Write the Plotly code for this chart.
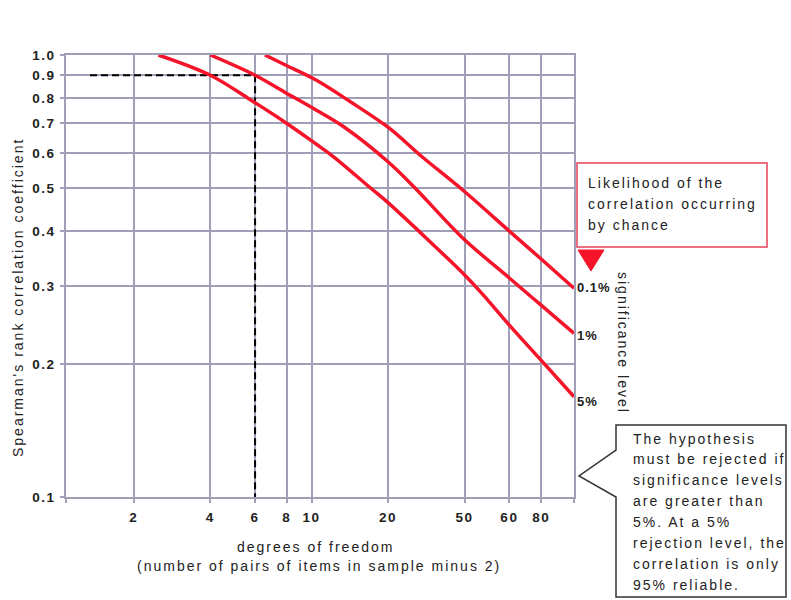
import math
import plotly.graph_objects as go

# Critical values of Spearman's rank correlation coefficient along each
# significance-level curve: degrees of freedom vs coefficient
df_p001 = [6.56, 7.82, 10.42, 14.17, 20.04, 27.13, 39.31, 59.96, 80.38, 107.7]
r_p001 = [1.0, 0.9517, 0.878, 0.7849, 0.6855, 0.5893, 0.4949, 0.3996, 0.3446, 0.2967]

df_p01 = [4, 6, 7.82, 10.42, 13.34, 20.04, 25.53, 39.31, 59.96, 80.38, 107.7]
r_p01 = [1.0, 0.9, 0.825, 0.7509, 0.6891, 0.5727, 0.5001, 0.3855, 0.313, 0.2709, 0.2346]

df_p05 = [2.5, 4, 5.77, 8, 10.42, 12.18, 16.98, 20.04, 27.95, 39.31, 46.66, 59.96, 80.38, 107.7]
r_p05 = [1.0, 0.9, 0.791, 0.70, 0.629, 0.5893, 0.5014, 0.4628, 0.3875, 0.3212, 0.2893,
         0.2449, 0.2032, 0.1686]

level_labels = ["0.1%", "1%", "5%"]

# Worked example: 6 degrees of freedom reaching a coefficient of 0.9
example_df = 6
example_r = 0.9
example_start_df = 1.346
r_floor = 0.1

x_tickvals = [2, 4, 6, 8, 10, 20, 40, 60, 80]
x_ticktext = ["2", "4", "6", "8", "10", "20", "50", "60", "80"]
y_tickvals = [0.1, 0.2, 0.3, 0.4, 0.5, 0.6, 0.7, 0.8, 0.9, 1.0]
y_ticktext = ["0.1", "0.2", "0.3", "0.4", "0.5", "0.6", "0.7", "0.8", "0.9", "1.0"]
x_limits = [1.083, 107.7]
y_limits = [0.1, 1.0]

chance_text = ["Likelihood of the", "correlation occurring", "by chance"]
reject_text = [
    "The hypothesis",
    "must be rejected if",
    "significance levels",
    "are greater than",
    "5%. At a 5%",
    "rejection level, the",
    "correlation is only",
    "95% reliable.",
]

# ---- styling -------------------------------------------------------------
W, H = 791, 600
L, R, T, B = 66, 574, 55, 497  # plot-area edges in pixels
GRID = "#9fa0b8"
RED = "#f5142a"
INK = "#222222"
FONT = "Liberation Sans, Arial, sans-serif"


def sp(text, ls=2.0, bold=False):
    weight = "font-weight:bold;" if bold else ""
    return f'<span style="letter-spacing:{ls}px;{weight}">{text}</span>'


def px(x):
    return (x - L) / (R - L)


def py(y):
    return (B - y) / (B - T)


fig = go.Figure()

# dashed read-off line for the worked example
fig.add_trace(go.Scatter(
    x=[example_start_df, example_df, example_df],
    y=[example_r, example_r, r_floor],
    mode="lines",
    line=dict(color="black", width=2, dash="7px,4px"),
    hoverinfo="skip",
))

curves = [(df_p001, r_p001), (df_p01, r_p01), (df_p05, r_p05)]
for xs, ys in curves:
    fig.add_trace(go.Scatter(
        x=xs, y=ys, mode="lines",
        line=dict(color=RED, width=3.5, shape="spline", smoothing=1.0),
        hoverinfo="skip",
    ))

axis_common = dict(
    type="log",
    showgrid=True, gridcolor=GRID, gridwidth=1.7,
    showline=True, linecolor=GRID, linewidth=1.7, mirror=True,
    ticks="outside", ticklen=4, tickcolor=GRID, tickwidth=1.7,
    zeroline=False,
    tickfont=dict(family=FONT, size=13.5, color=INK),
)

fig.update_xaxes(
    **axis_common,
    range=[math.log10(v) for v in x_limits],
    tickvals=x_tickvals + x_limits,
    ticktext=[sp(t, 1.5, True) for t in x_ticktext] + ["", ""],
    ticklabelstandoff=3,
)
fig.update_yaxes(
    **axis_common,
    range=[math.log10(v) for v in y_limits],
    tickvals=y_tickvals,
    ticktext=[sp(t, 1.5, True) for t in y_ticktext],
    ticklabelstandoff=2,
)

annotations = []


def note(text, x, y, size=14, xanchor="left", angle=0, bold=False, ls=2.0):
    annotations.append(dict(
        text=sp(text, ls, bold), x=px(x), y=py(y), xref="paper", yref="paper",
        xanchor=xanchor, yanchor="middle", showarrow=False, textangle=angle,
        font=dict(family=FONT, size=size, color=INK),
    ))


# axis titles
note("Spearman's rank correlation coefficient", 18, 298, xanchor="center", angle=-90)
note("degrees of freedom", 315, 547, xanchor="center")
note("(number of pairs of items in sample minus 2)", 319, 566, xanchor="center")

# significance labels at the curve ends
label_shift = [1, -2, -5]
for (xs, ys), lab, dy in zip(curves, level_labels, label_shift):
    annotations.append(dict(
        text=sp(lab, 1.0, True), x=math.log10(xs[-1]), y=math.log10(ys[-1]),
        xref="x", yref="y", xanchor="left", yanchor="middle", xshift=1, yshift=dy,
        showarrow=False, font=dict(family=FONT, size=13, color=INK),
    ))
note("significance level", 623, 343, xanchor="center", angle=90)

# callout texts
for i, line in enumerate(chance_text):
    note(line, 586, 183.5 + i * 20.5)
for i, line in enumerate(reject_text):
    note(line, 631, 438.5 + i * 20.9)

fig.update_layout(annotations=annotations)


def path(points):
    return "M " + " L ".join(f"{px(a):.5f},{py(b):.5f}" for a, b in points) + " Z"


shapes = [
    dict(type="rect", xref="paper", yref="paper",
         x0=px(577), x1=px(767), y0=py(247), y1=py(163),
         line=dict(color="#e8405a", width=1.5), fillcolor="white", layer="above"),
    dict(type="path", xref="paper", yref="paper",
         path=path([(578, 250), (604, 250), (591, 271)]),
         line=dict(color=RED, width=1), fillcolor=RED),
    dict(type="path", xref="paper", yref="paper",
         path=path([(616, 425), (786, 425), (786, 597), (616, 597), (616, 497),
                    (579, 476), (616, 450)]),
         line=dict(color="#333333", width=1.5), fillcolor="white"),
]
fig.update_layout(shapes=shapes)

fig.update_layout(
    width=W, height=H,
    margin=dict(l=L, r=W - R, t=T, b=H - B),
    paper_bgcolor="white", plot_bgcolor="white",
    showlegend=False,
    font=dict(family=FONT, color=INK),
)

fig.write_html("out.html")
